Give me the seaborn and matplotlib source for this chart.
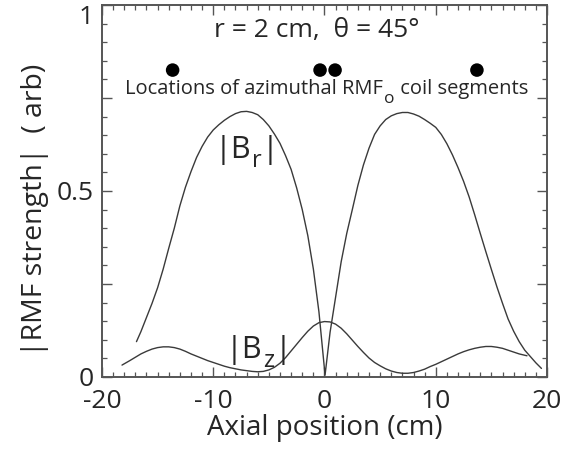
import matplotlib
matplotlib.use("Agg")
import matplotlib.pyplot as plt
import seaborn as sns
from matplotlib.ticker import MultipleLocator, FixedLocator

# |B_r|
br_x = [-16.9, -16.5, -16.0, -15.5, -15.0, -14.5, -14.0, -13.5, -13.0, -12.5,
        -12.0, -11.5, -11.0, -10.5, -10.0, -9.5, -9.0, -8.5, -8.0, -7.5,
        -7.0, -6.5, -6.0, -5.5, -5.0, -4.5, -4.0, -3.5, -3.0, -2.5,
        -2.0, -1.5, -1.0, -0.5, 0.05,
        0.5, 1.0, 1.5, 2.0, 2.5, 3.0, 3.5, 4.0, 4.5, 5.0,
        5.5, 6.0, 6.5, 7.0, 7.5, 8.0, 8.5, 9.0, 9.5, 10.0,
        10.5, 11.0, 11.5, 12.0, 12.5, 13.0, 13.5, 14.0, 14.5, 15.0,
        15.5, 16.0, 16.5, 17.0, 17.5, 18.0, 18.5, 19.0, 19.5]
br_y = [0.095, 0.122, 0.16, 0.198, 0.24, 0.29, 0.346, 0.40, 0.46, 0.51,
        0.552, 0.59, 0.62, 0.645, 0.664, 0.678, 0.69, 0.70, 0.708, 0.713,
        0.714, 0.711, 0.705, 0.692, 0.675, 0.653, 0.628, 0.595, 0.558, 0.508,
        0.45, 0.38, 0.29, 0.175, 0.005,
        0.12, 0.215, 0.31, 0.386, 0.45, 0.515, 0.57, 0.615, 0.652, 0.675,
        0.692, 0.702, 0.708, 0.711, 0.711, 0.707, 0.701, 0.692, 0.682, 0.671,
        0.652, 0.627, 0.597, 0.563, 0.526, 0.484, 0.436, 0.386, 0.337, 0.289,
        0.242, 0.198, 0.156, 0.123, 0.095, 0.072, 0.055, 0.038, 0.023]

# |B_z|
bz_x = [-18.2, -17.5, -17.0, -16.5, -16.0, -15.5, -15.0, -14.5, -14.0, -13.5,
        -13.0, -12.5, -12.0, -11.5, -11.0, -10.5, -10.0, -9.5, -9.0, -8.5,
        -8.0, -7.5, -7.0, -6.5, -6.0, -5.5, -5.0, -4.5, -4.0, -3.5,
        -3.0, -2.5, -2.0, -1.5, -1.0, -0.5, 0.0, 0.5, 1.0, 1.5,
        2.0, 2.5, 3.0, 3.5, 4.0, 4.5, 5.0, 5.5, 6.0, 6.5,
        7.0, 7.5, 8.0, 8.5, 9.0, 9.5, 10.0, 10.5, 11.0, 11.5,
        12.0, 12.5, 13.0, 13.5, 14.0, 14.5, 15.0, 15.5, 16.0, 16.5,
        17.0, 17.5, 18.2]
bz_y = [0.032, 0.044, 0.053, 0.062, 0.069, 0.075, 0.079, 0.081, 0.081, 0.079,
        0.075, 0.069, 0.062, 0.056, 0.050, 0.044, 0.039, 0.034, 0.029, 0.025,
        0.022, 0.019, 0.017, 0.015, 0.014, 0.015, 0.019, 0.026, 0.037, 0.052,
        0.070, 0.088, 0.106, 0.123, 0.137, 0.146, 0.149, 0.148, 0.142, 0.131,
        0.116, 0.099, 0.082, 0.066, 0.051, 0.039, 0.030, 0.022, 0.016, 0.012,
        0.010, 0.010, 0.012, 0.016, 0.021, 0.028, 0.034, 0.041, 0.048, 0.055,
        0.062, 0.068, 0.073, 0.077, 0.080, 0.082, 0.082, 0.080, 0.077, 0.072,
        0.067, 0.062, 0.057]

# coil segment locations
coil_x = [-13.65, -0.4, 0.95, 13.7]
coil_y = [0.825, 0.825, 0.825, 0.825]

sns.set_style("ticks")
plt.rcParams["font.family"] = ["Open Sans", "DejaVu Sans"]
plt.rcParams["axes.unicode_minus"] = False

fig = plt.figure(figsize=(5.71, 4.49), dpi=100)
ax = fig.add_axes([0.1786, 0.1604, 0.7794, 0.8285])

line_col = "#3a3a3a"
sns.lineplot(x=br_x, y=br_y, ax=ax, color=line_col, linewidth=1.0, sort=False)
sns.lineplot(x=bz_x, y=bz_y, ax=ax, color=line_col, linewidth=1.0, sort=False)
sns.scatterplot(x=coil_x, y=coil_y, ax=ax, color="black", s=95, edgecolor="none")

ax.set_xlim(-20, 20)
ax.set_ylim(0, 1)

ax.xaxis.set_major_locator(MultipleLocator(10))
ax.xaxis.set_minor_locator(MultipleLocator(1))
ax.yaxis.set_major_locator(FixedLocator([0, 0.25, 0.5, 0.75, 1.0]))
ax.set_yticklabels(["0", "", "0.5", "", "1"])
ax.yaxis.set_minor_locator(MultipleLocator(0.05))
ax.get_yticklabels()[-1].set_va("top")

ax.tick_params(which="both", direction="in", top=True, right=True, color="#555555")
ax.tick_params(which="major", length=7, width=1.0, labelsize=19)
ax.tick_params(axis="y", which="major", pad=6)
ax.tick_params(axis="x", which="major", pad=9)
ax.tick_params(which="minor", length=3.5, width=0.9)
for s in ax.spines.values():
    s.set_color("#555555")
    s.set_linewidth(1.4)

ax.set_xlabel("Axial position (cm)", fontsize=20, labelpad=0)
ax.set_ylabel("|RMF strength|  ( arb)", fontsize=20.5)
ax.yaxis.set_label_coords(-0.12, 0.45)

ax.text(-0.7, 0.932, "r = 2 cm,  \u03b8 = 45\u00b0", fontsize=19, ha="center", va="center")


def sub_label(x, y, main, sub, tail, size, sub_size, drop, va="center"):
    # main text, then a lowered subscript, then the tail, chained left to right
    t1 = ax.text(x, y, main, fontsize=size, ha="left", va=va)
    t2 = ax.annotate(sub, xy=(1, 0), xycoords=t1, xytext=(0.5, -drop),
                     textcoords="offset points", fontsize=sub_size, ha="left", va="bottom")
    t3 = ax.annotate(tail, xy=(1, 0), xycoords=t2, xytext=(0.5, drop),
                     textcoords="offset points", fontsize=size, ha="left", va="bottom")
    return t1, t2, t3


sub_label(-17.9, 0.774, "Locations of azimuthal RMF", "o", " coil segments", 14.5, 12.5, 6)
sub_label(-9.9, 0.61, "|B", "r", "|", 22, 17, 6)
sub_label(-8.9, 0.073, "|B", "z", "|", 22, 17, 6)

fig.savefig("out.png", dpi=100)
